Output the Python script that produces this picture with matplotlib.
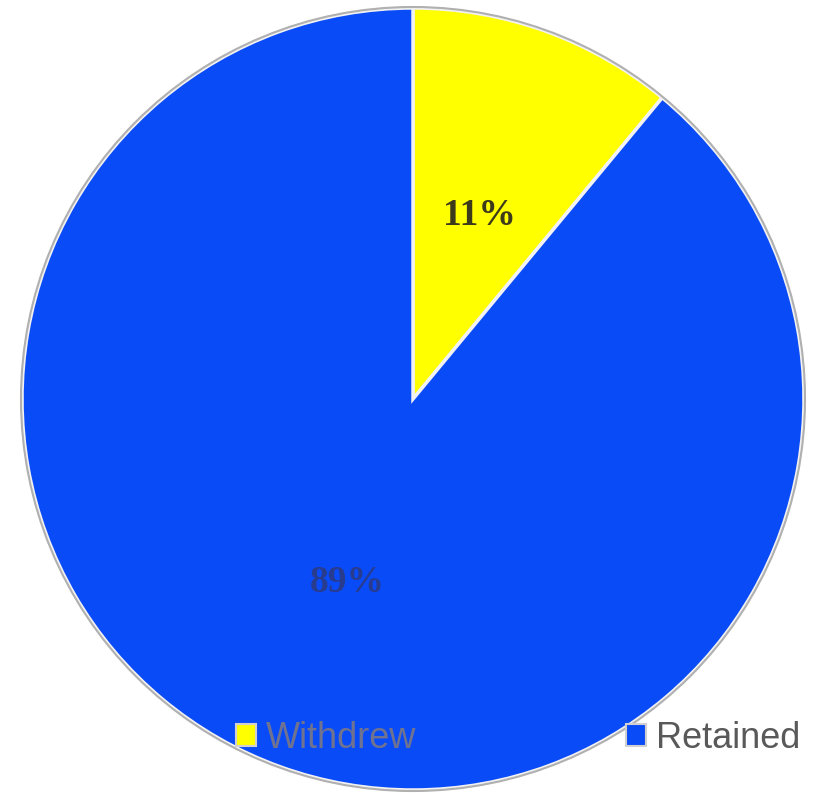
import matplotlib.pyplot as plt

labels = ["Withdrew", "Retained"]
shares = [11, 89]
colors = ["#FFFF00", "#0A4BF8"]

fig = plt.figure(figsize=(8.2, 7.94), dpi=100)
ax = fig.add_axes([0, 0, 1, 1])

wedges, texts, autotexts = ax.pie(
    shares, colors=colors, startangle=90, counterclock=False,
    center=(413, 395), radius=391, autopct="%d%%", pctdistance=0.5,
    wedgeprops=dict(edgecolor="#f2f2f2", linewidth=2.5),
    textprops=dict(family="Liberation Serif", fontweight="bold", fontsize=27),
    frame=True)
ax.set_xlim(0, 820)
ax.set_ylim(0, 794)
ax.set_aspect("equal")
ax.axis("off")
autotexts[0].set_color("#3d3a1c")
autotexts[1].set_color("#283c8f")

# thin grey rim round the pie
rim = plt.Circle((413, 395), 392, fill=False, edgecolor="#b0b0b0", linewidth=1.5)
ax.add_patch(rim)

leg = ax.legend(wedges, labels, loc="center left", bbox_to_anchor=(0.288, 0.07),
                bbox_transform=fig.transFigure, ncol=2, frameon=False,
                handlelength=0.55, handleheight=0.55, borderpad=0,
                borderaxespad=0, handletextpad=0.28, columnspacing=5.8,
                prop=dict(family="Liberation Sans", size=26))
for t, c in zip(leg.get_texts(), ["#6f7390", "#595959"]):
    t.set_color(c)
for h in leg.legend_handles:
    h.set_edgecolor("#d0d0d0")
    h.set_linewidth(1.5)

fig.savefig("out.png", dpi=100)
